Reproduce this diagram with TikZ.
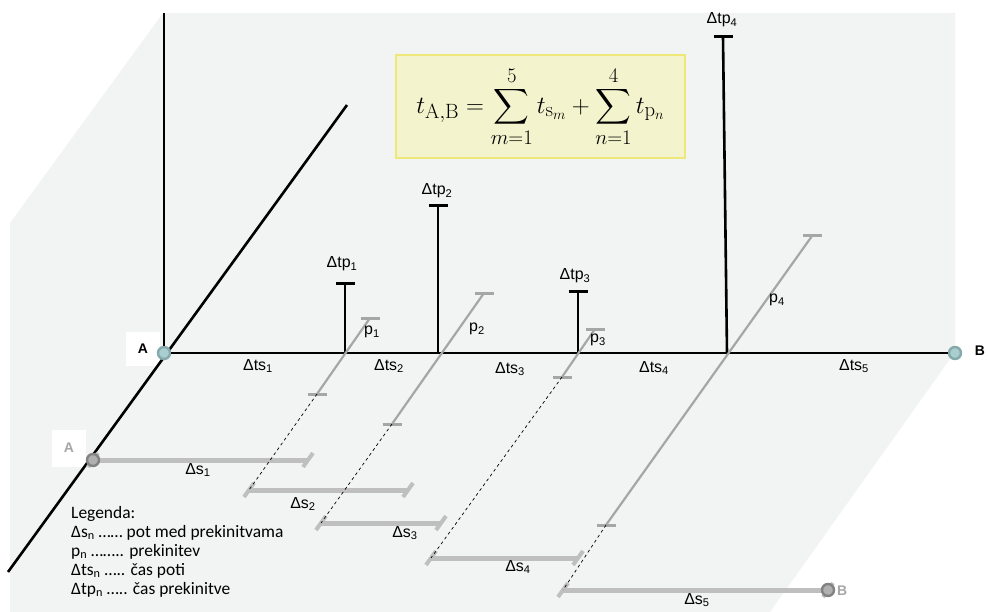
\documentclass[tikz,border=0pt]{standalone}
\usepackage{amsmath}
\usepackage[no-math]{fontspec}
\setmainfont{Liberation Sans}
\newfontfamily\legfont{Carlito}
\definecolor{floorgray}{RGB}{242,243,243}
\definecolor{pathgray}{RGB}{166,166,166}
\definecolor{bargray}{RGB}{191,191,191}
\definecolor{stopfill}{RGB}{176,176,176}
\definecolor{stopdraw}{RGB}{130,130,130}
\definecolor{tealfill}{RGB}{168,206,208}
\definecolor{tealdraw}{RGB}{134,169,171}
\definecolor{formfill}{RGB}{243,243,205}
\definecolor{formdraw}{RGB}{238,232,120}

\begin{document}
\begin{tikzpicture}[x=1bp,y=-1bp,font=\fontsize{16}{18}\selectfont,
ax/.style={line width=2.6bp,draw=black},
spike/.style={line width=2.6bp,draw=black},
spikecap/.style={line width=3bp,draw=black},
brk/.style={line width=2.2bp,draw=pathgray},
brkcap/.style={line width=3bp,draw=pathgray},
seg/.style={line width=5bp,draw=bargray},
segcap/.style={line width=4bp,draw=bargray},
link/.style={dashed,line width=.7bp,draw=black},
stop/.style={circle,inner sep=0pt,minimum size=12bp,line width=2.4bp,fill=tealfill,draw=tealdraw},
stopg/.style={stop,fill=stopfill,draw=stopdraw},
tag/.style={inner sep=1pt},
ptlabel/.style={fill=white,font=\fontsize{14}{16}\selectfont\bfseries,minimum width=34bp,minimum height=34bp,inner sep=0pt}]

\useasboundingbox(0,0)rectangle(988,612);
\fill[floorgray](163,13)--(955,13)--(955,352)--(770,612)--(10,612)--(10,223)--cycle;

\node[ptlabel](Alab)at(143,349){A};
\node[ptlabel,text=pathgray,minimum height=37bp](A2lab)at(69,448){A};

\coordinate(vtop)at(164,13);
\coordinate(dtop)at(347,105);
\coordinate(dbot)at(8,572);
\draw[ax](dtop)--(dbot);

\node[draw=formdraw,fill=formfill,line width=1.2bp,minimum width=289bp,minimum height=103bp,inner sep=0pt](sum)at(540.5,106.5){\fontsize{31}{36}\selectfont$\displaystyle t_{\mathrm{A,B}}=\sum_{m=1}^{5}t_{\mathrm{s}_m}+\sum_{n=1}^{4}t_{\mathrm{p}_n}$};

% lower path
\coordinate(a2)at(93,460);
\coordinate(s1e)at(308,460);
\coordinate(s2a)at(249,490);
\coordinate(s2e)at(408,490);
\coordinate(s3a)at(321,523);
\coordinate(s3e)at(441,523);
\coordinate(s4a)at(431,558);
\coordinate(s4e)at(578,558);
\coordinate(s5a)at(563,590);
\coordinate(b2)at(828,590);
\draw[seg](a2)--(s1e);
\draw[seg](s2a)--(s2e);
\draw[seg](s3a)--(s3e);
\draw[seg](s4a)--(s4e);
\draw[seg](s5a)--(b2);
\foreach \c in {a2,s1e,s2a,s2e,s3a,s3e,s4a,s4e,s5a,b2}
  \draw[segcap]([shift={(-5,7)}]\c)--([shift={(5,-7)}]\c);
\node[stopg](A2)at(a2){};
\node[stopg](B2)at(b2){};
\node[tag,font=\fontsize{14}{16}\selectfont\bfseries,text=pathgray,anchor=west](B2lab)at(836,591){B};

% time axis
\coordinate(q1b)at(345,353);
\coordinate(q1t)at(345,283);
\coordinate(q2b)at(438,353);
\coordinate(q2t)at(438,206);
\coordinate(q3b)at(578,353);
\coordinate(q3t)at(578,291);
\coordinate(q4b)at(727,353);
\coordinate(q4t)at(723,37);
\draw[spike](q1b)--(q1t);
\draw[spike](q2b)--(q2t);
\draw[spike](q3b)--(q3t);
\draw[spike](q4b)--(q4t);
\foreach \c in {q1t,q2t,q3t,q4t}
  \draw[spikecap]([shift={(-9.5,0)}]\c)--([shift={(9.5,0)}]\c);
\node[stop](A)at(164,353){};
\node[stop](B)at(955,353){};
\draw[ax](vtop)--(A);
\draw[ax](A)--(B);
\node[tag,font=\fontsize{14}{16}\selectfont\bfseries](Blab)at(980,351){B};

% breaks
\coordinate(p1t)at(370,318);
\coordinate(p1b)at(317,394);
\coordinate(p2t)at(484,293);
\coordinate(p2b)at(392,424);
\coordinate(p3t)at(595,329);
\coordinate(p3b)at(562,377);
\coordinate(p4t)at(812,236);
\coordinate(p4b)at(606,525);
\draw[brk](p1t)--(p1b);
\draw[brk](p2t)--(p2b);
\draw[brk](p3t)--(p3b);
\draw[brk](p4t)--(p4b);
\foreach \c in {p1t,p1b,p2t,p2b,p3t,p3b,p4t,p4b}
  \draw[brkcap]([shift={(-9.5,0)}]\c)--([shift={(9.5,0)}]\c);
\draw[link](p1b)--(s2a);
\draw[link](p2b)--(s3a);
\draw[link](p3b)--(s4a);
\draw[link](p4b)--(s5a);

\node[tag](tp1)at(342,264){Δtp\textsubscript{1}};
\node[tag](tp2)at(437,191){Δtp\textsubscript{2}};
\node[tag](tp3)at(575,276){Δtp\textsubscript{3}};
\node[tag](tp4)at(722,20){Δtp\textsubscript{4}};
\node[tag](ts1)at(258,366){Δts\textsubscript{1}};
\node[tag](ts2)at(389,366){Δts\textsubscript{2}};
\node[tag](ts3)at(510,369){Δts\textsubscript{3}};
\node[tag](ts4)at(654,368){Δts\textsubscript{4}};
\node[tag](ts5)at(854,366){Δts\textsubscript{5}};
\node[tag](pl1)at(372,332){p\textsubscript{1}};
\node[tag](pl2)at(477,329){p\textsubscript{2}};
\node[tag](pl3)at(598,340){p\textsubscript{3}};
\node[tag](pl4)at(777,300){p\textsubscript{4}};
\node[tag](ds1)at(198,470){Δs\textsubscript{1}};
\node[tag](ds2)at(303,504){Δs\textsubscript{2}};
\node[tag](ds3)at(405,533){Δs\textsubscript{3}};
\node[tag](ds4)at(518,567){Δs\textsubscript{4}};
\node[tag](ds5)at(697,600){Δs\textsubscript{5}};

\node[anchor=north west,align=left,inner sep=0pt,font=\legfont\fontsize{17.5}{19}\selectfont](leg)at(71,506){Legenda:\\Δs\textsubscript{n} …… pot med prekinitvama\\p\textsubscript{n} …….. prekinitev\\Δts\textsubscript{n} ….. čas poti\\Δtp\textsubscript{n} ….. čas prekinitve};
\end{tikzpicture}
\end{document}
